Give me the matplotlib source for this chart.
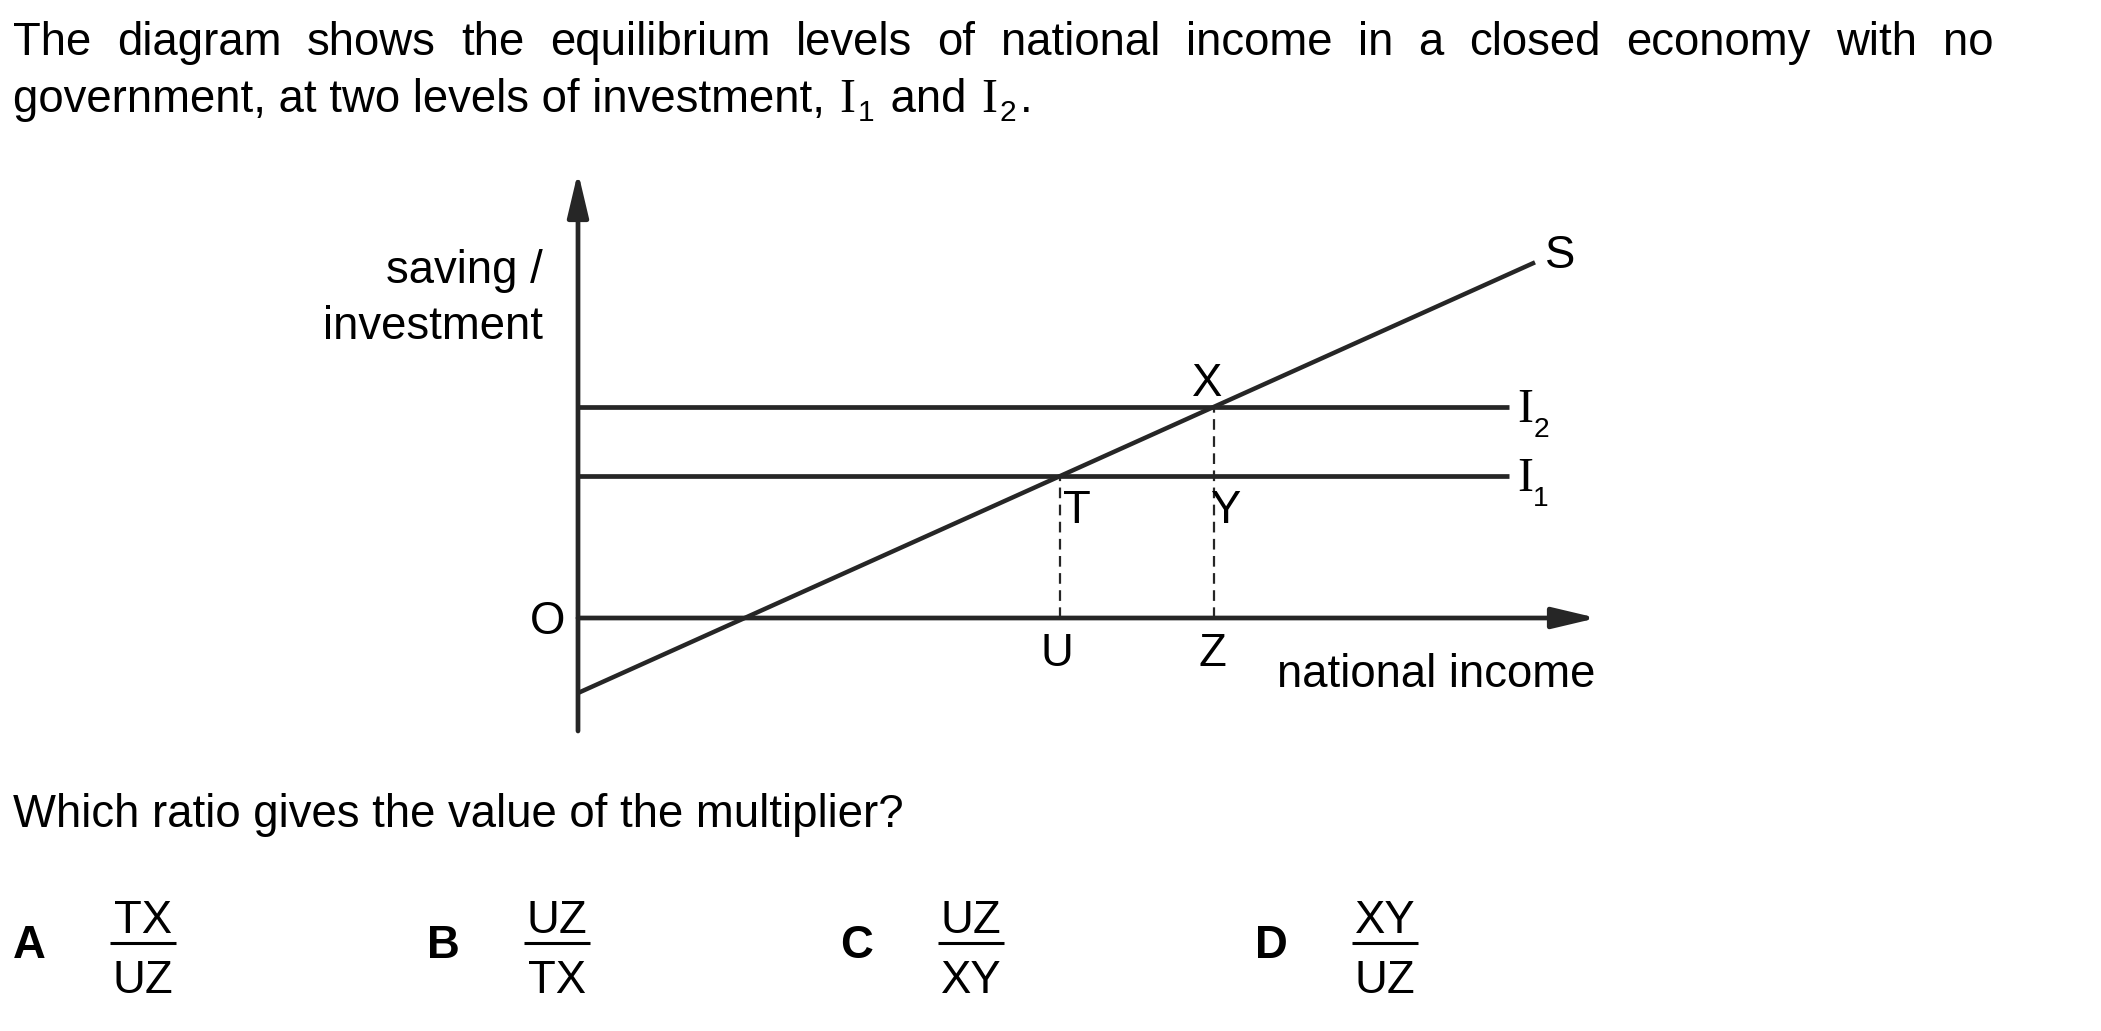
import matplotlib
matplotlib.use('Agg')
import matplotlib.pyplot as plt

plt.rcParams['font.family'] = ['Liberation Sans', 'DejaVu Sans']

# question text
intro_line1 = 'The diagram shows the equilibrium levels of national income in a closed economy with no'
intro_line2 = ['government, at two levels of investment, ', ('I', '1'), ' and ', ('I', '2'), '.']
question = 'Which ratio gives the value of the multiplier?'
option_letters = ['A', 'B', 'C', 'D']
numerators = ['TX', 'UZ', 'UZ', 'XY']
denominators = ['UZ', 'TX', 'XY', 'UZ']

# diagram: S = a + mps * Y, two investment levels
saving_intercept = -7.5
mps = 0.45
investment = [14.2, 21.1]
investment_subs = ['1', '2']
s_income_end = 95.7
i_income_end = 93.1
x_axis_end = 101.9
y_axis_range = (-11.3, 44.6)

ink = '#262626'
fs = 32.8

fig = plt.figure(figsize=(21.01, 10.31), dpi=100)
page = fig.add_axes([0, 0, 1, 1])
page.set_xlim(0, 2101)
page.set_ylim(1031, 0)
page.axis('off')
renderer = fig.canvas.get_renderer()


def width(s, **kw):
    t = page.text(0, 0, s + '|', **kw)
    b = page.text(0, 0, '|', **kw)
    w = t.get_window_extent(renderer).width - b.get_window_extent(renderer).width
    t.remove()
    b.remove()
    return w


# first line, justified
words = intro_line1.split()
ws = [width(w, fontsize=fs) for w in words]
left, right = 13, 1993
gap = (right - left - sum(ws)) / (len(words) - 1)
x = left
for w, wd in zip(words, ws):
    page.text(x, 55, w, fontsize=fs, ha='left', va='baseline')
    x += wd + gap

# second line with serif I and subscripts
x = left
for run in intro_line2:
    if isinstance(run, tuple):
        letter, sub = run
        x += 2
        page.text(x, 112, letter, fontsize=fs * 1.05, family='Liberation Serif', ha='left', va='baseline')
        x += width(letter, fontsize=fs * 1.05, family='Liberation Serif')
        page.text(x + 2, 121, sub, fontsize=fs * 0.66, ha='left', va='baseline')
        x += width(sub, fontsize=fs * 0.66) + 6
    else:
        page.text(x, 112, run, fontsize=fs, ha='left', va='baseline')
        x += width(run, fontsize=fs)

page.text(left, 827, question, fontsize=fs, ha='left', va='baseline')

# answer options
for i, (letter, num, den) in enumerate(zip(option_letters, numerators, denominators)):
    x0 = 29 + i * 414
    xf = 143 + i * 414
    page.text(x0, 958, letter, fontsize=fs, fontweight='bold', ha='center', va='baseline')
    page.text(xf, 933, num, fontsize=fs, ha='center', va='baseline')
    page.text(xf, 993, den, fontsize=fs, ha='center', va='baseline')
    page.plot([xf - 33, xf + 33], [943, 943], color='black', lw=2.2, solid_capstyle='butt')

# diagram
ax = fig.add_axes([0, 0, 1, 1])
ax.set_xlim(-57.8, 152.3)
ax.set_ylim(-41.3, 61.8)
ax.axis('off')
ax.patch.set_alpha(0)

arrow = dict(arrowstyle='-|>,head_length=1.35,head_width=0.32', mutation_scale=20,
             lw=3.4, color=ink, shrinkA=0, shrinkB=0)
ax.annotate('', xy=(x_axis_end, 0), xytext=(0, 0), arrowprops=arrow)
ax.annotate('', xy=(0, y_axis_range[1]), xytext=(0, y_axis_range[0]), arrowprops=arrow)

s_end = saving_intercept + mps * s_income_end
ax.plot([0, s_income_end], [saving_intercept, s_end], color=ink, lw=3.2, solid_capstyle='butt')

eq = [(inv - saving_intercept) / mps for inv in investment]
for inv, e, sub in zip(investment, eq, investment_subs):
    ax.plot([0, i_income_end], [inv, inv], color=ink, lw=3.4, solid_capstyle='butt')
    ax.plot([e, e], [0, inv], color=ink, lw=1.6, ls=(0, (4.8, 2.9)))
    ax.annotate('I', xy=(i_income_end, inv), xytext=(16, -15), textcoords='offset pixels',
                fontsize=fs * 1.05, family='Liberation Serif', ha='center', va='baseline')
    ax.annotate(sub, xy=(i_income_end, inv), xytext=(32, -30), textcoords='offset pixels',
                fontsize=fs * 0.62, ha='center', va='baseline')


def label(s, xy, dx, dy, ha='center'):
    ax.annotate(s, xy=xy, xytext=(dx, dy), textcoords='offset pixels',
                fontsize=fs, ha=ha, va='baseline')


label('X', (eq[1], investment[1]), -6, 11)
label('T', (eq[0], investment[0]), 17, -47)
label('Y', (eq[1], investment[0]), 12, -47)
label('U', (eq[0], 0), -3, -48)
label('Z', (eq[1], 0), -1, -48)
label('O', (0, 0), -30, -16)
label('S', (s_income_end, s_end), 25, -6)
label('national income', (x_axis_end, 0), -2, -69, ha='right')
label('saving /', (0, y_axis_range[1]), -35, -111, ha='right')
label('investment', (0, y_axis_range[1]), -35, -167, ha='right')

fig.savefig('out.png', dpi=100)
